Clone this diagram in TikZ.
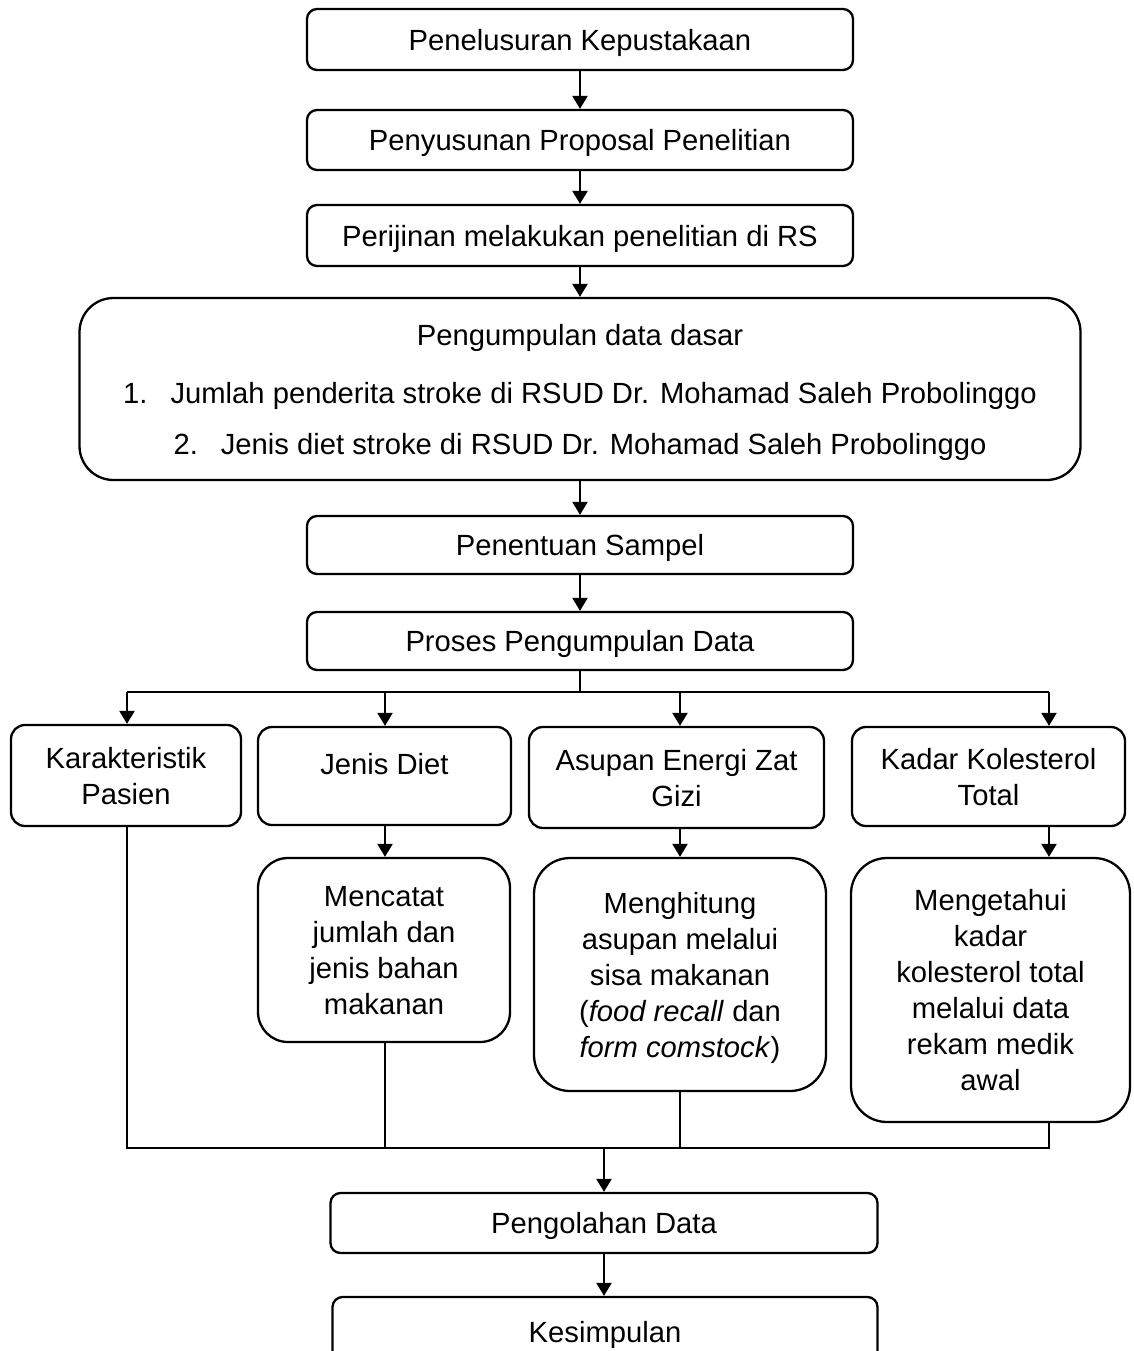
\documentclass[tikz,border=0pt]{standalone}
\usepackage{fontspec}
\setmainfont{Liberation Sans}
\usetikzlibrary{arrows.meta}
\begin{document}
\begin{tikzpicture}[x=0.5pt,y=-0.5pt,
  box/.style={draw, line width=1.15pt, rounded corners=5pt, align=center, inner sep=0pt,
    text depth=0pt, font=\fontsize{14.6}{18}\selectfont},
  sz/.style 2 args={minimum width={0.5pt*#1}, minimum height={0.5pt*#2}},
  arr/.style={line width=1.15pt, -{Triangle[length=6.5pt,width=7.5pt]}},
  ln/.style={line width=1.15pt},
  thinln/.style={line width=0.8pt}]
\useasboundingbox (0,0) rectangle (1134,1351);

\node[box, sz={546}{61}] (b1) at (580,39.5) {Penelusuran Kepustakaan};
\node[box, sz={546}{60}] (b2) at (580,140) {Penyusunan Proposal Penelitian};
\node[box, sz={546}{61}] (b3) at (580,235.5) {Perijinan melakukan penelitian di RS};
\node[box, rounded corners=17pt, sz={1001}{182}] (b4) at (580,389)
  {Pengumpulan data dasar\\[11pt]
   1.\hspace{11.5pt}Jumlah penderita stroke di RSUD Dr. Mohamad Saleh Probolinggo\\[7.5pt]
   2.\hspace{11.5pt}Jenis diet stroke di RSUD Dr. Mohamad Saleh Probolinggo};
\node[box, sz={546}{58}] (b5) at (580,545) {Penentuan Sampel};
\node[box, sz={546}{58}] (b6) at (580,641) {Proses Pengumpulan Data};

\draw[arr] (b1.south) -- (b2.north);
\draw[arr] (b2.south) -- (b3.north);
\draw[arr] (b3.south) -- (b4.north);
\draw[arr] (b4.south) -- (b5.north);
\draw[arr] (b5.south) -- (b6.north);

\node[box, rounded corners=7pt, sz={230}{101}] (k1) at (126,775.5) {Karakteristik\\Pasien};
\node[box, rounded corners=7pt, sz={253}{98}] (k2) at (384.5,776) {\raisebox{6pt}[0.72em][0pt]{Jenis Diet}};
\node[box, rounded corners=7pt, sz={295}{101}] (k3) at (676.5,777.5) {Asupan Energi Zat\\Gizi};
\node[box, rounded corners=7pt, sz={273}{99}] (k4) at (988.5,776.5) {Kadar Kolesterol\\Total};

\coordinate (jM) at (580,692);
\coordinate (j1) at (127,692);
\coordinate (j2) at (385,692);
\coordinate (j3) at (680,692);
\coordinate (j4) at (1049,692);
\draw[ln] (b6.south) -- (jM);
\draw[ln] (j1) -- (j4);
\draw[arr] (j1) -- (j1 |- k1.north);
\draw[arr] (j2) -- (j2 |- k2.north);
\draw[arr] (j3) -- (j3 |- k3.north);
\draw[arr] (j4) -- (j4 |- k4.north);

\node[box, rounded corners=15pt, sz={252}{184}] (m2) at (384,950)
  {Mencatat\\jumlah dan\\jenis bahan\\makanan};
\node[box, rounded corners=18pt, sz={292}{233}] (m3) at (680,974.5)
  {Menghitung\\asupan melalui\\sisa makanan\\(\textit{food recall} dan\\\textit{form comstock})};
\node[box, rounded corners=18pt, sz={279}{264}] (m4) at (990.5,990)
  {Mengetahui\\kadar\\kolesterol total\\melalui data\\rekam medik\\awal};

\draw[arr] (k2.south -| j2) -- (m2.north -| j2);
\draw[arr] (k3.south -| j3) -- (m3.north -| j3);
\draw[arr] (k4.south -| j4) -- (m4.north -| j4);

\coordinate (q1) at (127,1148);
\coordinate (q4) at (1049,1148);
\coordinate (qM) at (604,1148);
\draw[ln] (k1.south -| q1) -- (q1) -- (q4) -- (m4.south -| q4);
\draw[thinln] (m2.south -| j2) -- (j2 |- q1);
\draw[thinln] (m3.south -| j3) -- (j3 |- q1);

\node[box, sz={547}{60}] (p) at (604,1223) {Pengolahan Data};
\node[box, sz={545}{70}] (kes) at (605,1332) {Kesimpulan};
\draw[arr] (qM) -- (qM |- p.north);
\draw[arr] (p.south) -- (p.south |- kes.north);
\end{tikzpicture}
\end{document}
